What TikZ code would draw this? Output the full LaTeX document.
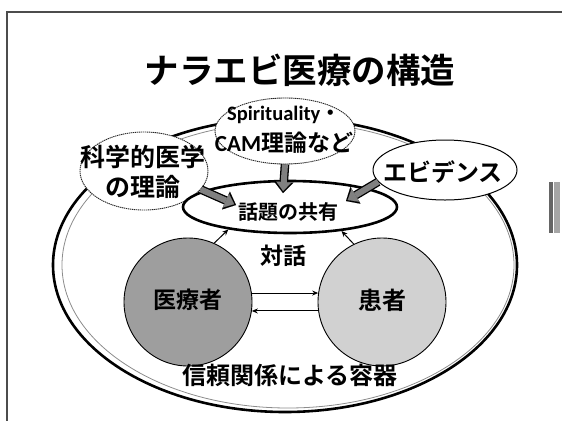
\documentclass[tikz,border=0pt]{standalone}
\usepackage{fontspec}
\setmainfont{Noto Sans CJK JP}[BoldFont={Noto Sans CJK JP Bold}]
\newfontfamily\lat{Carlito}
\usetikzlibrary{arrows.meta,shapes.geometric}
\tikzset{
  frameline/.style={draw=black!70, line width=1.2pt},
  txt/.style={font=\bfseries, inner sep=0pt, align=center},
  bub/.style={ellipse, draw=black!85, fill=white, line width=0.9pt, dash pattern=on 1.3pt off 0.7pt, inner sep=0pt},
  bubsolid/.style={ellipse, draw=black, fill=white, line width=1pt, inner sep=0pt},
  container/.style={ellipse, draw=black, line width=2.6pt, inner sep=0pt},
  containerin/.style={ellipse, draw=black!45, line width=0.8pt, inner sep=0pt},
  wadaibox/.style={ellipse, draw=black, line width=2.6pt, inner sep=0pt},
  person/.style={circle, draw=black, line width=0.9pt, minimum size=128pt, inner sep=0pt},
  thinarr/.style={draw=black, line width=1pt, -{Stealth[length=6pt,width=5pt]}},
  blk/.style={draw=black!50, line width=6pt, shorten >=2pt,
     -{Triangle[length=9pt,width=15pt,line width=0.01pt]},
     preaction={draw=black, line width=8.6pt, shorten >=0pt,
       -{Triangle[length=11pt,width=19.5pt,line width=0.01pt]}}}
}
\begin{document}
\begin{tikzpicture}[x=1pt,y=-1pt]
\useasboundingbox (0,0) rectangle (562,421);
% frame
\draw[frameline] (562,12) -- (7,12) -- (7,421);
% small hatched mark at the right
\fill[black!60] (549,182) rectangle (553,233);
\fill[black!35] (554,182) rectangle (560,233);
% title
\node[txt, font=\fontsize{34.5}{40}\selectfont\bfseries] (title) at (300,70) {ナラエビ医療の構造};
% container
\node[container, minimum width=464pt, minimum height=294pt] (cont) at (285,265) {};
\node[containerin, minimum width=452pt, minimum height=286pt] (contin) at (288,265) {};
% bubbles
\node[bub, minimum width=140pt, minimum height=66pt] (spir) at (285,131) {};
\node[bub, minimum width=128pt, minimum height=78pt] (kagaku) at (144,171) {};
\node[bubsolid, minimum width=144pt, minimum height=60pt] (evid) at (445,170) {};
\node[wadaibox, minimum width=214pt, minimum height=52pt] (wadai) at (290,207) {};
% persons
\node[person, fill=black!38] (iryo) at (188,302) {};
\node[person, fill=black!18] (kanja) at (382,302) {};
% texts
\node[txt, font=\fontsize{20.5}{26}\selectfont\bfseries] (spirA) at (284,115) {{\lat Spirituality}・};
\node[txt, font=\fontsize{23}{28}\selectfont\bfseries] (spirB) at (284,143) {{\lat CAM}理論など};
\node[txt, font=\fontsize{25}{30}\selectfont\bfseries] (kagakuA) at (143,157) {科学的医学};
\node[txt, font=\fontsize{25}{30}\selectfont\bfseries] (kagakuB) at (143,187) {の理論};
\node[txt, font=\fontsize{24}{28}\selectfont\bfseries] (evidT) at (443,172) {エビデンス};
\node[txt, font=\fontsize{20}{24}\selectfont\bfseries] (wadaiT) at (288,212) {話題の共有};
\node[txt, font=\fontsize{23}{28}\selectfont\bfseries] (taiwa) at (283,256) {対話};
\node[txt, font=\fontsize{23}{28}\selectfont\bfseries] (iryoT) at (188,300) {医療者};
\node[txt, font=\fontsize{24}{28}\selectfont\bfseries] (kanjaT) at (382,300) {患者};
\node[txt, font=\fontsize{24}{28}\selectfont\bfseries] (shinrai) at (290,375) {信頼関係による容器};
% block arrows into the shared topic
\coordinate (tK) at (236,205);
\coordinate (tS) at (283,193);
\coordinate (tE) at (346,201);
\draw[blk] (kagaku.-18) -- (tK);
\draw[blk] (spir.south) -- (tS);
\draw[blk] (evid.190) -- (tE);
% thin arrows
\draw[thinarr] (iryo.66) -- (wadai.200);
\draw[thinarr] (kanja.116) -- (wadai.-25);
\draw[thinarr] (iryo.8) -- (kanja.172);
\draw[thinarr] (kanja.188) -- (iryo.-8);
\end{tikzpicture}
\end{document}
